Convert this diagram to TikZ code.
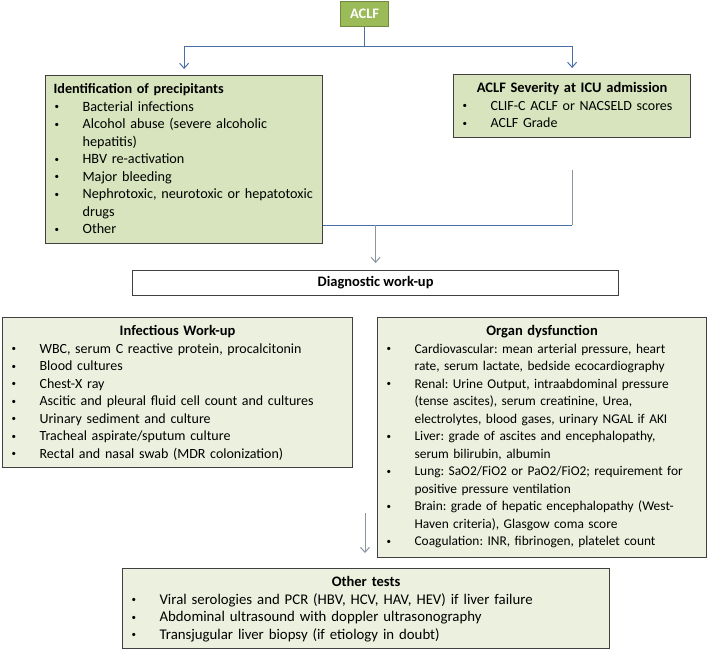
\documentclass[tikz,border=0pt]{standalone}
\usepackage{fontspec}
\setmainfont{Carlito}
\usetikzlibrary{arrows.meta}
\definecolor{aclfgreen}{HTML}{9BBB59}
\definecolor{aclfborder}{HTML}{71893F}
\definecolor{topfill}{HTML}{D7E4BD}
\definecolor{lowfill}{HTML}{EBF1DE}
\definecolor{boxborder}{HTML}{404040}
\definecolor{connblue}{HTML}{4A6FA5}
\definecolor{conngray}{HTML}{8C949E}
\newcommand\smallbullet{\raisebox{1.2pt}{\fontsize{9}{9}\selectfont\textbullet}}
\newcommand\bitem[1]{\par\noindent\hangindent=37pt\hangafter=1\makebox[37pt][l]{\hspace{9pt}\smallbullet}#1}
\newcommand\topstrut{\rule{0pt}{12.5pt}}
\newcommand\botstrut{\rule[-4pt]{0pt}{4pt}}
\newcommand\titlefont{\fontsize{14.5}{17.5}\selectfont\bfseries}
\tikzset{
  infobox/.style={draw=boxborder, line width=1.2pt, inner xsep=0pt, inner ysep=5.5pt,
    anchor=north west, align=left},
  conn/.style={draw=connblue, line width=1pt},
  connG/.style={draw=conngray, line width=1pt},
  tip/.style={-{Straight Barb[length=5pt,width=9pt]}}
}
\begin{document}
\frenchspacing
\begin{tikzpicture}[x=1pt,y=-1pt]
\useasboundingbox (0,0) rectangle (709,648);

\node[draw=aclfborder, fill=aclfgreen, line width=1.2pt, anchor=north west,
  minimum width=48pt, minimum height=25pt, inner sep=0pt, text=white,
  font=\titlefont] (A) at (340,1) {ACLF};

\node[infobox, fill=topfill, text width=277pt, font=\fontsize{14.2}{17.5}\selectfont] (L1) at (45,75) {%
\noindent\topstrut\hspace*{8pt}\textbf{Identification of precipitants}
\bitem{Bacterial infections}
\bitem{Alcohol abuse (severe alcoholic\newline hepatitis)}
\bitem{HBV re-activation}
\bitem{Major bleeding}
\bitem{Nephrotoxic, neurotoxic or hepatotoxic\newline drugs}
\bitem{Other\botstrut}};

\node[infobox, fill=topfill, text width=237pt, font=\fontsize{14}{17.5}\selectfont] (R1) at (453,74) {%
{\centering\topstrut{\titlefont ACLF Severity at ICU admission}\par}
\bitem{CLIF-C ACLF or NACSELD scores}
\bitem{ACLF Grade\botstrut}};

\node[draw=boxborder, line width=1.2pt, fill=white, anchor=north west,
  minimum width=486pt, minimum height=25pt, inner sep=0pt,
  font=\titlefont] (D) at (132,270) {Diagnostic work-up};

\node[infobox, fill=lowfill, text width=350pt, font=\fontsize{14}{17.5}\selectfont] (I) at (2,317) {%
{\centering\topstrut{\titlefont Infectious Work-up}\par}
\bitem{WBC, serum C reactive protein, procalcitonin}
\bitem{Blood cultures}
\bitem{Chest-X ray}
\bitem{Ascitic and pleural fluid cell count and cultures}
\bitem{Urinary sediment and culture}
\bitem{Tracheal aspirate/sputum culture}
\bitem{Rectal and nasal swab (MDR colonization)\botstrut}};

\node[infobox, fill=lowfill, text width=329pt, font=\fontsize{13.4}{17.5}\selectfont] (O) at (377,317) {%
{\centering\topstrut{\titlefont Organ dysfunction}\par}
\bitem{Cardiovascular: mean arterial pressure, heart\newline rate, serum lactate, bedside ecocardiography}
\bitem{Renal: Urine Output, intraabdominal pressure\newline (tense ascites), serum creatinine, Urea,\newline electrolytes, blood gases, urinary NGAL if AKI}
\bitem{Liver: grade of ascites and encephalopathy,\newline serum bilirubin, albumin}
\bitem{Lung: SaO2/FiO2 or PaO2/FiO2; requirement for\newline positive pressure ventilation}
\bitem{Brain: grade of hepatic encephalopathy (West-\newline Haven criteria), Glasgow coma score}
\bitem{Coagulation: INR, fibrinogen, platelet count\rule[-6pt]{0pt}{6pt}}};

\node[infobox, fill=lowfill, text width=487pt, font=\fontsize{14.8}{17.5}\selectfont] (T) at (122,568) {%
{\centering\topstrut{\titlefont Other tests}\par}
\bitem{Viral serologies and PCR (HBV, HCV, HAV, HEV) if liver failure}
\bitem{Abdominal ultrasound with doppler ultrasonography}
\bitem{Transjugular liver biopsy (if etiology in doubt)\botstrut}};

% connectors
\coordinate (j) at (365,46);
\draw[conn] (A.south) -- (A.south |- j);
\draw[conn, tip, shorten >=6pt] (A.south |- j) -| (L1.north);
\draw[conn, tip, shorten >=6pt] (A.south |- j) -| (R1.north);

\coordinate (c1) at (572,170);
\coordinate (m) at (572,225);
\draw[connG] (c1) -- (m);
\draw[conn] (L1.east |- m) -- (m);
\draw[connG, tip, shorten >=7pt] (D.north |- m) -- (D.north);

\coordinate (c2) at (365,513);
\draw[connG, tip, shorten >=15pt] (c2) -- (c2 |- T.north);
\end{tikzpicture}
\end{document}
